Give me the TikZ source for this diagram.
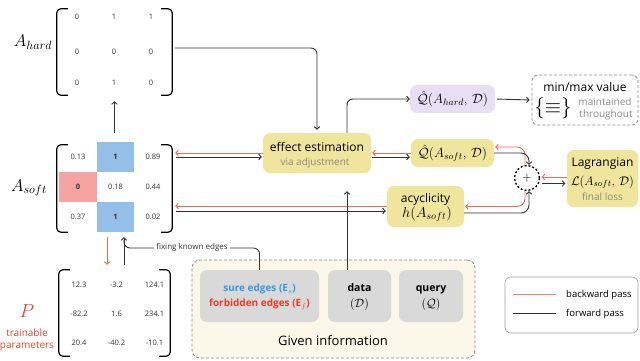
\RequirePackage{fix-cm}
\documentclass[tikz,border=0pt]{standalone}
\usepackage{fontspec}
\setmainfont{Open Sans}
\usetikzlibrary{arrows.meta,calc}
\definecolor{cYellow}{HTML}{EFE59C}
\definecolor{cPurple}{HTML}{E8DFF7}
\definecolor{cGreyBox}{HTML}{D9D9D9}
\definecolor{cInfo}{HTML}{FBF8EA}
\definecolor{cBlue}{HTML}{93BFE8}
\definecolor{cRedCell}{HTML}{F5A3A3}
\definecolor{cRedLine}{HTML}{F26B50}
\definecolor{cPText}{HTML}{E9452D}
\definecolor{cSure}{HTML}{3A97E2}
\definecolor{cForb}{HTML}{EF3B25}
\definecolor{cGreyText}{HTML}{8A8A8A}
\definecolor{cDark}{HTML}{333333}
\definecolor{cDash}{HTML}{8C8C8C}
\begin{document}
\begin{tikzpicture}[x=1pt,y=-1pt,
  fwd/.style={draw=cDark, line width=0.9pt, -{Straight Barb[length=2.5pt,width=5.5pt]}},
  bwd/.style={draw=cRedLine, line width=0.9pt, -{Straight Barb[length=2.5pt,width=5.5pt]}},
  plainline/.style={draw=cDark, line width=0.9pt},
  yboxst/.style={fill=cYellow, rounded corners=7pt, inner sep=0pt},
  pboxst/.style={fill=cPurple, rounded corners=7pt, inner sep=0pt},
  gboxst/.style={fill=cGreyBox, rounded corners=7pt, inner sep=0pt},
  bracketst/.style={draw=black, line width=1.2pt, rounded corners=4pt},
  num/.style={font=\fontsize{7.5}{9}\selectfont, text=cDark, inner sep=0pt},
  cellst/.style={minimum width=37.5pt, minimum height=30pt, inner sep=0pt, font=\fontsize{7.5}{9}\selectfont\bfseries, text=cDark},
  matlbl/.style={font=\fontsize{17}{20}\selectfont},
  boxmath/.style={font=\fontsize{13.5}{16}\selectfont},
  maintext/.style={font=\fontsize{12}{14}\selectfont, anchor=base, inner sep=0pt},
  subtext/.style={font=\fontsize{10}{12}\selectfont, text=cGreyText, anchor=base, inner sep=0pt}
]
\fill[white] (0,0) rectangle (640,360);
\useasboundingbox (0,0) rectangle (640,360);

% ---------- A_hard ----------
\node[minimum width=115pt, minimum height=86pt, inner sep=0pt] (hardM) at (114.5,52) {};
\draw[bracketst] ([xshift=11pt]hardM.north west) -- (hardM.north west) -- (hardM.south west) -- ([xshift=11pt]hardM.south west);
\draw[bracketst] ([xshift=-11pt]hardM.north east) -- (hardM.north east) -- (hardM.south east) -- ([xshift=-11pt]hardM.south east);
\node[num] (h11) at (77,17) {0};
\node[num] (h12) at (114,17) {1};
\node[num] (h13) at (151,17) {1};
\node[num] (h21) at (77,52) {0};
\node[num] (h22) at (114,52) {0};
\node[num] (h23) at (151,52) {0};
\node[num] (h31) at (77,83) {0};
\node[num] (h32) at (114,83) {1};
\node[num] (h33) at (151,83) {0};
\node[matlbl] (lblhard) at (33,42) {$A_{hard}$};

% ---------- A_soft ----------
\node[minimum width=115pt, minimum height=87pt, inner sep=0pt] (softM) at (114.5,188.5) {};
\node[cellst] (s11) at (78,157) {\mdseries 0.13};
\node[cellst, fill=cBlue] (s12) at (115.5,157) {1};
\node[cellst] (s13) at (153,157) {\mdseries 0.89};
\node[cellst, fill=cRedCell] (s21) at (78,187) {0};
\node[cellst] (s22) at (115.5,187) {\mdseries 0.18};
\node[cellst] (s23) at (153,187) {\mdseries 0.44};
\node[cellst] (s31) at (78,217) {\mdseries 0.37};
\node[cellst, fill=cBlue] (s32) at (115.5,217) {1};
\node[cellst] (s33) at (153,217) {\mdseries 0.02};
\draw[bracketst] ([xshift=11pt]softM.north west) -- (softM.north west) -- (softM.south west) -- ([xshift=11pt]softM.south west);
\draw[bracketst] ([xshift=-11pt]softM.north east) -- (softM.north east) -- (softM.south east) -- ([xshift=-11pt]softM.south east);
\node[matlbl] (lblsoft) at (29,188) {$A_{soft}$};

% ---------- P ----------
\node[minimum width=111pt, minimum height=86pt, inner sep=0pt] (pM) at (114.5,313) {};
\draw[bracketst] ([xshift=11pt]pM.north west) -- (pM.north west) -- (pM.south west) -- ([xshift=11pt]pM.south west);
\draw[bracketst] ([xshift=-11pt]pM.north east) -- (pM.north east) -- (pM.south east) -- ([xshift=-11pt]pM.south east);
\node[num] (p11) at (79,285) {12.3};
\node[num] (p12) at (116.5,285) {-3.2};
\node[num] (p13) at (154.5,285) {124.1};
\node[num] (p21) at (79,314) {-82.2};
\node[num] (p22) at (116.5,314) {1.6};
\node[num] (p23) at (154.5,314) {234.1};
\node[num] (p31) at (79,343) {20.4};
\node[num] (p32) at (116.5,343) {-40.2};
\node[num] (p33) at (154.5,343) {-10.1};
\node[font=\fontsize{19}{22}\selectfont, text=cPText] (lblP) at (27,311) {$P$};
\node[font=\fontsize{10}{12}\selectfont, text=cPText, anchor=base, inner sep=0pt] (lblP2) at (27,336) {trainable};
\node[font=\fontsize{10}{12}\selectfont, text=cPText, anchor=base, inner sep=0pt] (lblP3) at (27,348.5) {parameters};

% ---------- boxes ----------
\node[yboxst, minimum width=108pt, minimum height=40pt] (eff) at (317,153) {};
\node[maintext] (efft1) at (317,151) {effect estimation};
\node[subtext] (efft2) at (315,165) {via adjustment};

\node[pboxst, minimum width=85pt, minimum height=28pt, boxmath] (Qhard) at (452.5,99) {$\hat{\mathcal{Q}}(A_{hard},\,\mathcal{D})$};
\node[yboxst, minimum width=83pt, minimum height=28pt, boxmath] (Qsoft) at (452.5,153) {$\hat{\mathcal{Q}}(A_{soft},\,\mathcal{D})$};

\node[draw=cDash, dash pattern=on 3pt off 2pt, line width=0.8pt, rounded corners=6pt, minimum width=106pt, minimum height=50pt, inner sep=0pt] (minmax) at (585,100) {};
\node[maintext] (mmt1) at (585,91) {min/max value};
\node[font=\fontsize{21}{24}\selectfont, inner sep=0pt] (mmsym) at (553,108) {$\{\equiv\}$};
\node[subtext] (mmt2) at (605,105) {maintained};
\node[subtext] (mmt3) at (606,117.5) {throughout};

\node[yboxst, minimum width=77pt, minimum height=41pt] (acyc) at (425.5,206.5) {};
\node[maintext] (acyct1) at (425.5,202) {acyclicity};
\node[font=\fontsize{14.5}{17}\selectfont, anchor=base, inner sep=0pt] (acyct2) at (427,217) {$h(A_{soft})$};

\node[draw=black, line width=1.3pt, dash pattern=on 2pt off 2pt, circle, minimum size=25pt, inner sep=0pt, font=\fontsize{13}{14}\selectfont] (plus) at (527,178) {$+$};

\node[yboxst, minimum width=71pt, minimum height=57pt] (lag) at (602.5,178.5) {};
\node[maintext] (lagt1) at (602.5,166) {Lagrangian};
\node[font=\fontsize{12.5}{15}\selectfont, anchor=base, inner sep=0pt] (lagt2) at (602.5,185) {$\mathcal{L}(A_{soft},\,\mathcal{D})$};
\node[subtext] (lagt3) at (602.5,200) {final loss};

% ---------- given information ----------
\node[draw=cDash, fill=cInfo, dash pattern=on 3pt off 2pt, line width=0.8pt, rounded corners=8pt, minimum width=283pt, minimum height=98pt, inner sep=0pt] (given) at (333.5,309) {};
\node[gboxst, minimum width=119pt, minimum height=52pt] (sure) at (259.5,296) {};
\node[font=\fontsize{10}{12}\selectfont\bfseries, text=cSure, anchor=base, inner sep=0pt] (suret1) at (259.5,291.5) {sure edges ($\mathbf{E}_s$)};
\node[font=\fontsize{10}{12}\selectfont\bfseries, text=cForb, anchor=base, inner sep=0pt] (suret2) at (259.5,306.5) {forbidden edges ($\mathbf{E}_f$)};
\node[gboxst, minimum width=63pt, minimum height=52pt] (data) at (359.5,296) {};
\node[font=\fontsize{10.5}{12}\selectfont\bfseries, anchor=base, inner sep=0pt] (datat1) at (359.5,291.5) {data};
\node[font=\fontsize{12}{14}\selectfont, anchor=base, inner sep=0pt] (datat2) at (359.5,307.5) {$(\mathcal{D})$};
\node[gboxst, minimum width=64pt, minimum height=52pt] (query) at (431,296) {};
\node[font=\fontsize{10.5}{12}\selectfont\bfseries, anchor=base, inner sep=0pt] (queryt1) at (431,291.5) {query};
\node[font=\fontsize{12}{14}\selectfont, anchor=base, inner sep=0pt] (queryt2) at (431,307.5) {$(\mathcal{Q})$};
\node[font=\fontsize{13}{15}\selectfont, anchor=base, inner sep=0pt] (givent) at (333,345) {Given information};

% ---------- legend ----------
\node[draw=cDash!80, line width=0.6pt, rounded corners=6pt, minimum width=133pt, minimum height=56pt, inner sep=0pt] (legend) at (571.5,305) {};
\coordinate (lgr1) at (513,294);
\coordinate (lgr2) at (556,294);
\coordinate (lgb1) at (513,313);
\coordinate (lgb2) at (556,313);
\draw[draw=cRedLine!85, line width=0.9pt] (lgr1) -- (lgr2);
\draw[plainline] (lgb1) -- (lgb2);
\node[font=\fontsize{9.5}{11}\selectfont, anchor=base west, inner sep=0pt] (lgt1) at (566,297) {backward pass};
\node[font=\fontsize{9.5}{11}\selectfont, anchor=base west, inner sep=0pt] (lgt2) at (566,316) {forward pass};

% ---------- connectors ----------
\draw[fwd, shorten <=12pt, shorten >=6pt] (softM.north) -- (hardM.south);
\draw[fwd, rounded corners=6pt] ([xshift=3pt,yshift=4pt]hardM.east) -| ([yshift=3pt]eff.north);
\draw[bwd, shorten >=3pt] (eff.west) -- (eff.west -| softM.east);
\draw[fwd, shorten <=4pt, shorten >=1pt] ([yshift=-4pt]eff.west -| softM.east) -- ([yshift=-4pt]eff.west);
\draw[bwd, shorten >=3pt] ([yshift=0.5pt]acyc.west) -- ([yshift=0.5pt]acyc.west -| softM.east);
\draw[fwd, shorten <=4pt, shorten >=1pt] ([yshift=-4.5pt]acyc.west -| softM.east) -- ([yshift=-4.5pt]acyc.west);
\draw[fwd, shorten >=18pt] ([xshift=-12.5pt]data.north) -- ([xshift=-12.5pt]data.north |- eff.south);
\draw[fwd, rounded corners=6pt] ([xshift=30pt]eff.north) |- (Qhard.west);
\draw[fwd, shorten <=2pt, shorten >=2pt] (Qhard.east) -- (minmax.west);
\draw[bwd, shorten >=1pt] (Qsoft.west) -- (Qsoft.west -| eff.east);
\draw[fwd, shorten <=1pt, shorten >=1pt] ([yshift=-4pt]eff.east) -- ([yshift=-4pt]eff.east -| Qsoft.west);
\draw[bwd, rounded corners=8pt, shorten >=1pt] ([xshift=-2pt]plus.north) |- ([yshift=6pt]Qsoft.east);
\draw[fwd, rounded corners=8pt] (Qsoft.east) -| ([xshift=2pt]plus.north);
\draw[bwd, rounded corners=8pt, shorten >=1pt] ([xshift=-2pt]plus.south) |- (acyc.east);
\draw[fwd, rounded corners=8pt] ([yshift=-6.5pt]acyc.east) -| ([xshift=2pt]plus.south);
\draw[bwd, shorten >=1.5pt] ([yshift=1.5pt]lag.west) -- ([yshift=1.5pt]lag.west -| plus.east);
\draw[fwd, shorten <=1.5pt, shorten >=1.5pt] ([yshift=-5.5pt]plus.east) -- ([yshift=-5.5pt]plus.east -| lag.west);
\draw[bwd, shorten <=5pt, shorten >=5pt] ([xshift=-7.5pt]softM.south) -- ([xshift=-7.5pt]pM.north);
\draw[fwd, shorten <=5pt, shorten >=5pt] ([xshift=9.5pt]pM.north) -- ([xshift=9.5pt]softM.south);
\coordinate (fk) at (124,248);
\draw[plainline, rounded corners=6pt, shorten >=8pt] (sure.north) |- (fk) -- (fk |- softM.south);
\node[fill=white, inner sep=2pt, font=\fontsize{8}{10}\selectfont, text=cDark] (fixlbl) at (192,247) {fixing known edges};
\end{tikzpicture}
\end{document}
